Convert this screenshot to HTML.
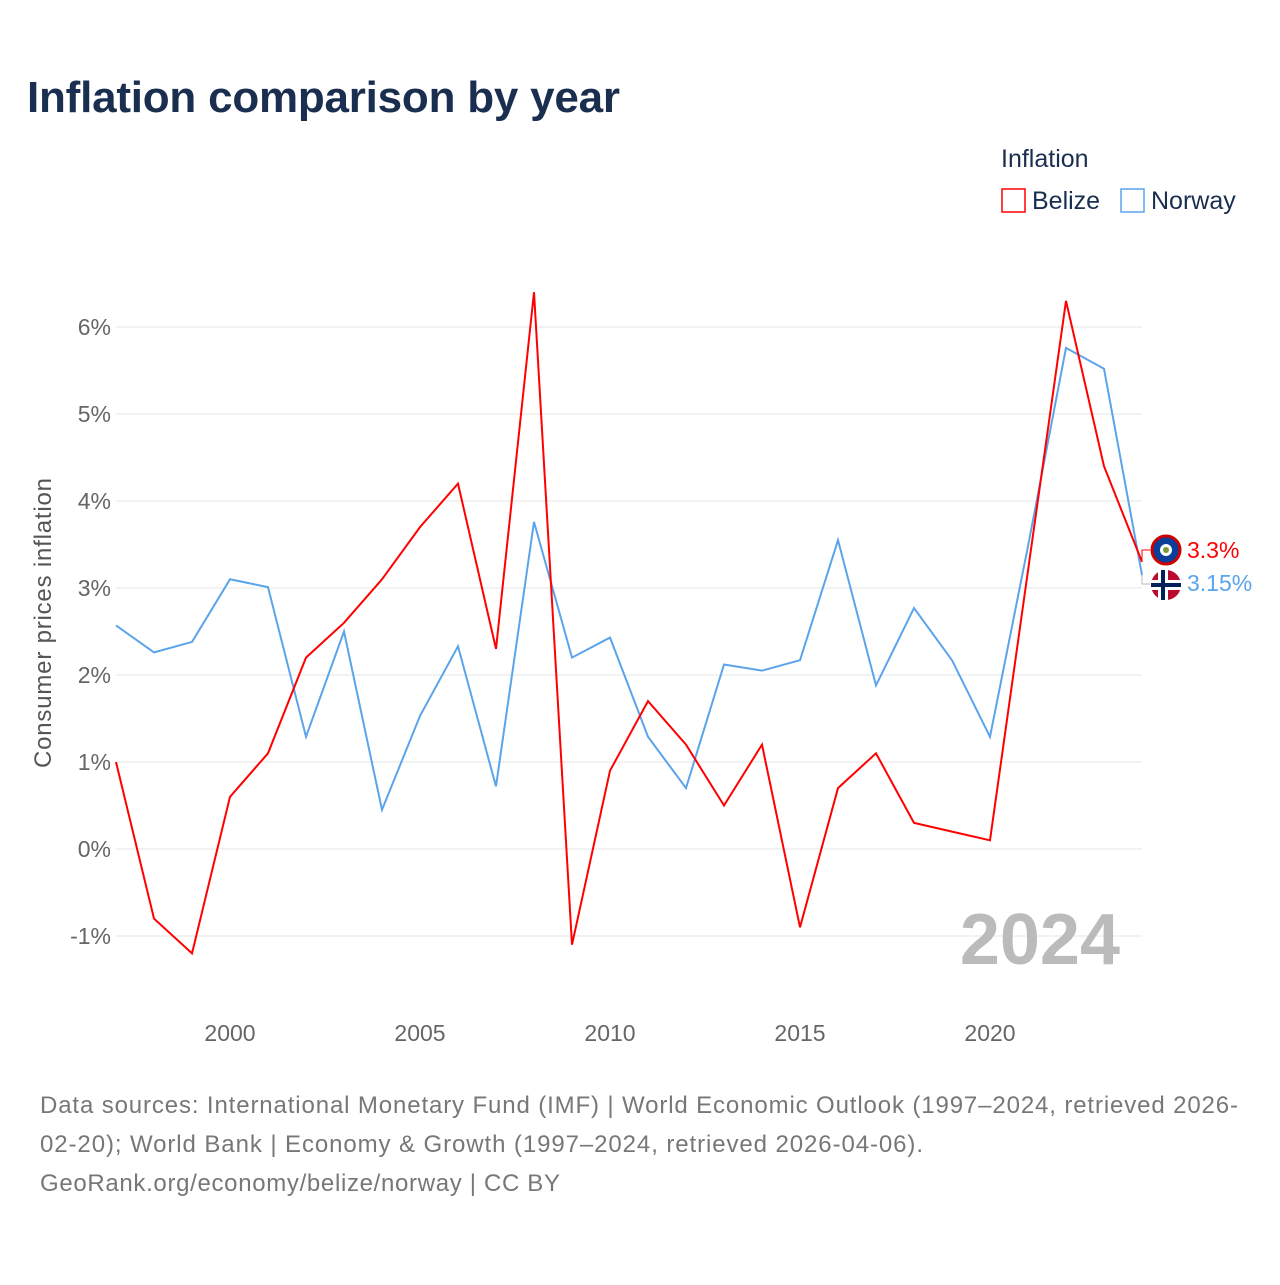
<!DOCTYPE html>
<html><head><meta charset="utf-8"><style>
body{margin:0;width:1280px;height:1280px;background:#fff;font-family:"Liberation Sans",sans-serif;overflow:hidden}
</style></head><body>
<svg width="1280" height="1280" xmlns="http://www.w3.org/2000/svg">
<text x="27" y="112" font-size="44" font-weight="bold" fill="#1a2e50" textLength="593">Inflation comparison by year</text>
<g>
<text x="1001" y="167" font-size="25" fill="#1a2e50">Inflation</text>
<g><rect x="1002" y="189" width="23" height="23" fill="none" stroke="#f00" stroke-width="1.5"/><text x="1032" y="209" font-size="25" fill="#1a2e50">Belize</text></g>
<g><rect x="1121" y="189" width="23" height="23" fill="none" stroke="#5ba4ea" stroke-width="1.5"/><text x="1151" y="209" font-size="25" fill="#1a2e50">Norway</text></g>
</g>
<g id="grid"></g>
<g id="yt"></g>
<g id="xt"></g>
<text transform="translate(51,623) rotate(-90)" text-anchor="middle" font-size="24" fill="#555" textLength="290">Consumer prices inflation</text>
<text x="1120" y="964" text-anchor="end" font-size="72" font-weight="bold" fill="#bbb">2024</text>
<g id="series"></g>
<g>
<polyline points="1142,561 1142,550 1150,550" fill="none" stroke="#f00" stroke-width="1"/>
<polyline points="1142,575 1142,584 1150,584" fill="none" stroke="#bbb" stroke-width="1"/>
<g><circle cx="1166" cy="550" r="14" fill="#0a3e9a" stroke="#c00" stroke-width="3"/><circle cx="1166" cy="550" r="6" fill="#fff"/><circle cx="1166" cy="550" r="3" fill="#7a9a3a"/></g>
<text x="1187" y="558" font-size="23" fill="#f00">3.3%</text>
<g><circle cx="1166" cy="585" r="15" fill="#ba0c2f"/><rect x="1151" y="580" width="30" height="10" fill="#fff"/><rect x="1158" y="570" width="10" height="30" fill="#fff"/><rect x="1151" y="583" width="30" height="4" fill="#00205b"/><rect x="1161" y="570" width="4" height="30" fill="#00205b"/></g>
<text x="1187" y="591" font-size="23" fill="#5ba4ea">3.15%</text>
</g>
<g font-size="24" fill="#777">
<text x="40" y="1113" textLength="1198">Data sources: International Monetary Fund (IMF) | World Economic Outlook (1997–2024, retrieved 2026-</text>
<text x="40" y="1152" textLength="883">02-20); World Bank | Economy &amp; Growth (1997–2024, retrieved 2026-04-06).</text>
<text x="40" y="1191" textLength="520">GeoRank.org/economy/belize/norway | CC BY</text>
</g>
</svg>
<script>
const years=[1997,1998,1999,2000,2001,2002,2003,2004,2005,2006,2007,2008,2009,2010,2011,2012,2013,2014,2015,2016,2017,2018,2019,2020,2021,2022,2023,2024];
const belize=[1.0,-0.8,-1.2,0.6,1.1,2.2,2.6,3.1,3.7,4.2,2.3,6.4,-1.1,0.9,1.7,1.2,0.5,1.2,-0.9,0.7,1.1,0.3,0.2,0.1,3.2,6.3,4.4,3.3];
const norway=[2.57,2.26,2.38,3.1,3.01,1.29,2.5,0.45,1.53,2.33,0.72,3.76,2.2,2.43,1.29,0.7,2.12,2.05,2.17,3.55,1.88,2.77,2.17,1.29,3.48,5.76,5.52,3.15];
const yTicks=[-1,0,1,2,3,4,5,6];
const xTicks=[2000,2005,2010,2015,2020];
const NS="http://www.w3.org/2000/svg";
const xS=y=>116+(y-1997)*38;
const yS=v=>849-v*87;
function mk(t,a,p){const e=document.createElementNS(NS,t);for(const k in a)e.setAttribute(k,a[k]);p.appendChild(e);return e;}
const grid=document.getElementById('grid'),yt=document.getElementById('yt'),xt=document.getElementById('xt'),ser=document.getElementById('series');
yTicks.forEach(v=>{
 const l=mk('line',{x1:116,x2:1142,y1:yS(v),y2:yS(v),stroke:'#e6e6e6','stroke-width':1},grid);
 
 
 const t=mk('text',{x:111,y:yS(v)+8,'text-anchor':'end','font-size':23,fill:'#666'},yt);
 t.textContent=v+'%';
 
 
});
xTicks.forEach(y=>{
 const t=mk('text',{x:xS(y),y:1041,'text-anchor':'middle','font-size':23,fill:'#666'},xt);
 t.textContent=y;
 
 
});
function line(vals,col,name){
 const p=mk('polyline',{points:vals.map((v,i)=>xS(years[i])+','+yS(v)).join(' '),fill:'none',stroke:col,'stroke-width':2,'stroke-linejoin':'miter'},ser);
 
 
}
line(norway,'#5ba4ea','norway-line');
line(belize,'#f00','belize-line');
</script>
</body></html>
